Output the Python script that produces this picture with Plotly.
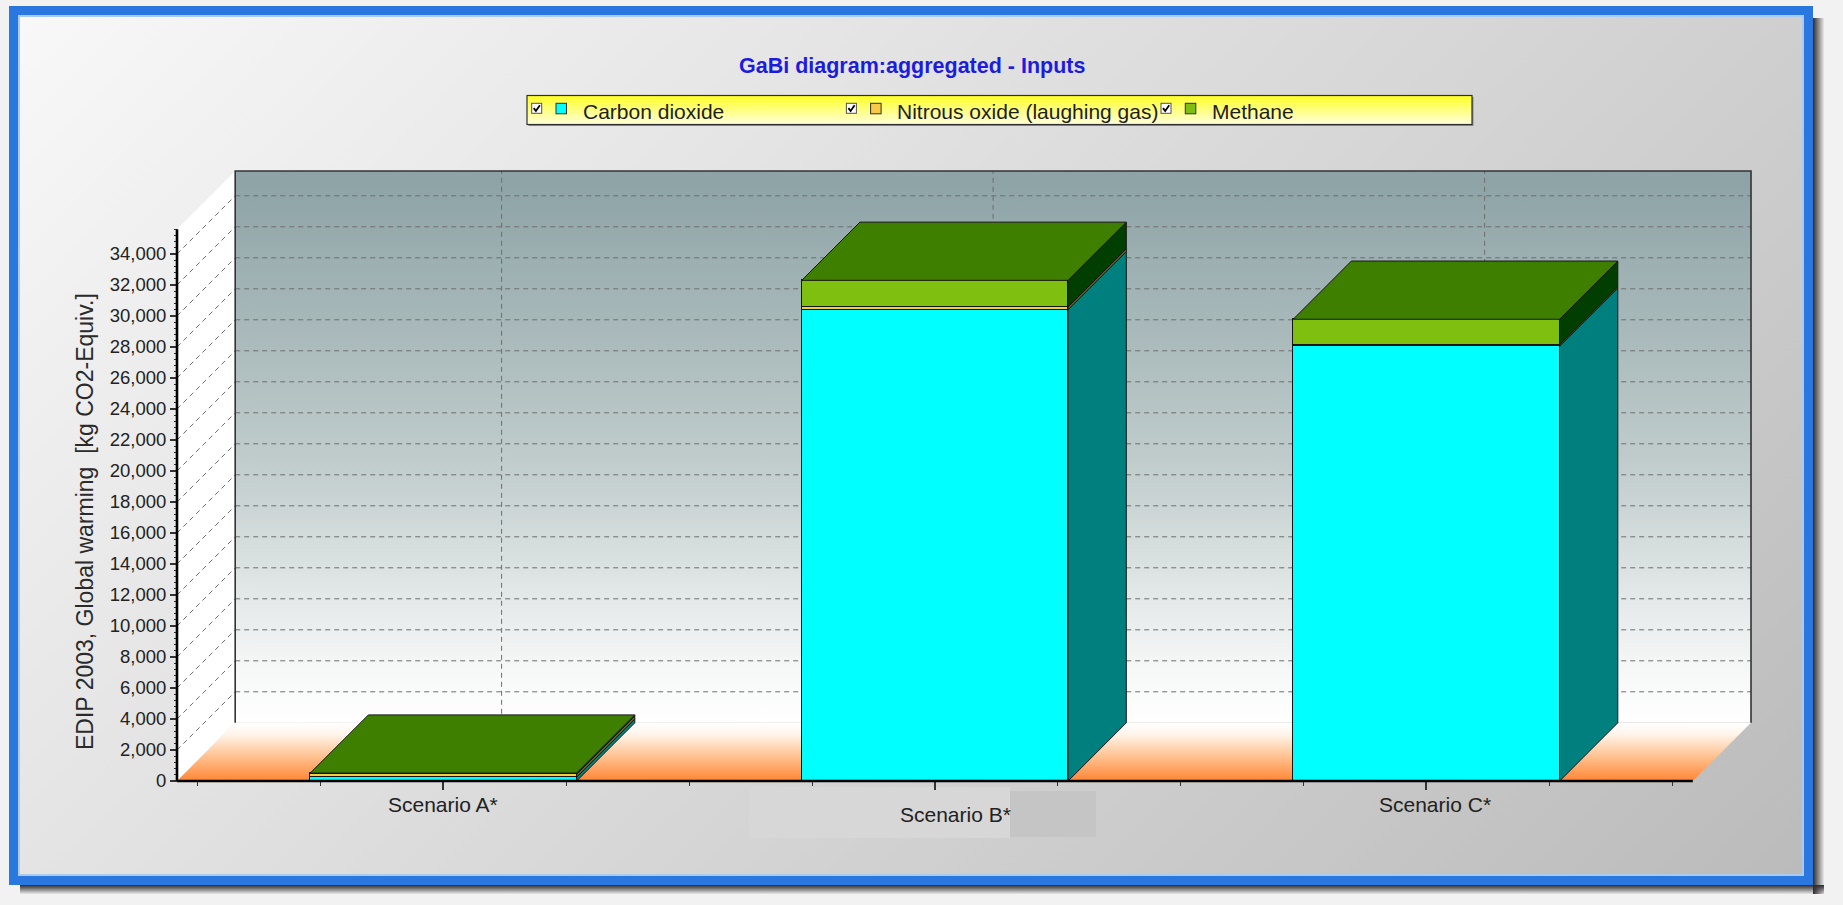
import base64
import plotly.graph_objects as go

# ---------------- data ----------------
categories = ["Scenario A*", "Scenario B*", "Scenario C*"]
series_names = ["Carbon dioxide", "Nitrous oxide (laughing gas)", "Methane"]
carbon_dioxide = [250, 30410, 28050]
nitrous_oxide = [190, 170, 100]
methane = [70, 1720, 1640]
y_tick_values = list(range(0, 34001, 2000))
chart_title = "GaBi diagram:aggregated - Inputs"
y_title = "EDIP 2003, Global warming\u00a0 [kg CO2-Equiv.]"

series_values = [carbon_dioxide, nitrous_oxide, methane]

# ---------------- styles ----------------
front_colors = ["#00ffff", "#f7cb45", "#7fbf0f"]
side_colors = ["#007f7f", "#7f6418", "#003f00"]
top_colors = ["#00bfbf", "#bf9a30", "#3f7f00"]
EDGE = "#161616"
FONT = "Liberation Sans, Arial, Helvetica, sans-serif"
GRID = "#6e6e6e"

# ---------------- geometry (pixels) ----------------
W, H = 1843, 905
BOX_L, BOX_R, BOX_T, BOX_B, PAD = 177, 1751, 171, 781, 8
ml, mr, mt, mb = BOX_L - PAD, W - BOX_R - PAD, BOX_T - PAD, H - BOX_B - PAD
pw, ph = W - ml - mr, H - mt - mb

CAT_PX = 491.5      # pixels per category step
CAT0_PX = 443.4     # pixel of first category centre
VAL_PX = 0.0155     # pixels per value unit
BAR_W = 0.542
XMIN = (BOX_L - CAT0_PX) / CAT_PX
XMAX = (len(categories) - 1) - XMIN
DX = (BOX_R - CAT0_PX) / CAT_PX - XMAX
YTOP = 35600
DY = (BOX_B - BOX_T) / VAL_PX - YTOP

x_range = [(ml - CAT0_PX) / CAT_PX, (W - mr - CAT0_PX) / CAT_PX]
y_range = [-(H - mb - BOX_B) / VAL_PX, (BOX_B - mt) / VAL_PX]


def paper_x(px):
    return (px - ml) / pw


def paper_y(py):
    return (H - mb - py) / ph


def svg_uri(svg):
    return "data:image/svg+xml;base64," + base64.b64encode(svg.encode("utf-8")).decode("ascii")


x_pos = list(range(len(categories)))

# ---------------- background (frame, panel, legend box) ----------------
LEG_BOX = (527, 95.5, 945, 29)
LEG_X0, LEG_STEP, LEG_CB_Y = 531.7, 314.65, 103.3
leg_parts = []
for k in range(len(series_names)):
    cx = LEG_X0 + k * LEG_STEP
    leg_parts.append(f'<rect x="{cx:.1f}" y="{LEG_CB_Y}" width="10" height="10" fill="#ffffff" stroke="#505050" stroke-width="1"/>')
    leg_parts.append(f'<path d="M{cx+2:.1f},{LEG_CB_Y+4.8:.1f} L{cx+4.2:.1f},{LEG_CB_Y+7.6:.1f} L{cx+8.2:.1f},{LEG_CB_Y+2:.1f}" fill="none" stroke="#000000" stroke-width="1.8"/>')
    leg_parts.append(f'<rect x="{cx+24.3:.1f}" y="{LEG_CB_Y}" width="10.5" height="10.5" fill="{front_colors[k]}" stroke="#303030" stroke-width="1"/>')

bg_svg = f'''<svg xmlns="http://www.w3.org/2000/svg" width="{W}" height="{H}" viewBox="0 0 {W} {H}">
<defs>
<linearGradient id="pg" x1="0" y1="0" x2="1.2018" y2="0.5862">
<stop offset="0" stop-color="#f8f8f8"/><stop offset="1" stop-color="#bbbbbb"/>
</linearGradient>
<linearGradient id="shr" x1="0" y1="0" x2="1" y2="0">
<stop offset="0" stop-color="#2c2c2c"/><stop offset="1" stop-color="#2c2c2c" stop-opacity="0.05"/>
</linearGradient>
<linearGradient id="shb" x1="0" y1="0" x2="0" y2="1">
<stop offset="0" stop-color="#2c2c2c"/><stop offset="1" stop-color="#2c2c2c" stop-opacity="0.05"/>
</linearGradient>
<linearGradient id="lg" x1="0" y1="0" x2="0" y2="1">
<stop offset="0" stop-color="#ffff26"/><stop offset="1" stop-color="#ffffdc"/>
</linearGradient>
</defs>
<rect x="0" y="0" width="{W}" height="{H}" fill="#f2f2f2"/>
<rect x="1813" y="18" width="11" height="876" fill="url(#shr)"/>
<rect x="20" y="885" width="1804" height="9" fill="url(#shb)"/>
<rect x="9" y="6" width="1804" height="879" fill="#2a78df"/>
<rect x="18" y="15" width="1786" height="861" fill="#a9cbef"/>
<rect x="20" y="17" width="1782" height="857" fill="url(#pg)"/>
<rect x="749" y="787" width="261" height="51" fill="#d7d7d7"/>
<rect x="1010" y="791" width="86" height="46" fill="#c5c5c5"/>
<rect x="{LEG_BOX[0]+1.5}" y="{LEG_BOX[1]+1.5}" width="{LEG_BOX[2]}" height="{LEG_BOX[3]}" fill="#8a8a8a"/>
<rect x="{LEG_BOX[0]}" y="{LEG_BOX[1]}" width="{LEG_BOX[2]}" height="{LEG_BOX[3]}" fill="url(#lg)" stroke="#303030" stroke-width="1.2"/>
{''.join(leg_parts)}
</svg>'''

# back wall gradient
back_svg = '''<svg xmlns="http://www.w3.org/2000/svg" width="100" height="100" viewBox="0 0 100 100" preserveAspectRatio="none">
<defs><linearGradient id="bw" x1="0" y1="0" x2="0" y2="1">
<stop offset="0" stop-color="#8ca2a5"/><stop offset="0.55" stop-color="#c3cece"/>
<stop offset="0.9" stop-color="#f6f7f7"/><stop offset="1" stop-color="#ffffff"/>
</linearGradient></defs>
<rect x="0" y="0" width="100" height="100" fill="url(#bw)"/>
</svg>'''

# floor gradient (parallelogram inside its bounding box)
fw = XMAX - XMIN + DX
fx_front = (XMAX - XMIN) / fw * 1000
fx_back = DX / fw * 1000
floor_svg = f'''<svg xmlns="http://www.w3.org/2000/svg" width="1000" height="100" viewBox="0 0 1000 100" preserveAspectRatio="none">
<defs><linearGradient id="fl" x1="0" y1="0" x2="0" y2="1">
<stop offset="0" stop-color="#ffffff"/><stop offset="0.2" stop-color="#fff4ea"/>
<stop offset="0.6" stop-color="#ffbf8c"/><stop offset="1" stop-color="#ff8636"/>
</linearGradient></defs>
<polygon points="0,100 {fx_front:.3f},100 1000,0 {fx_back:.3f},0" fill="url(#fl)"/>
</svg>'''

images = [
    dict(source=svg_uri(bg_svg), xref="paper", yref="paper", x=paper_x(0), y=paper_y(0),
         sizex=W / pw, sizey=H / ph, xanchor="left", yanchor="top", sizing="stretch", layer="below"),
    dict(source=svg_uri(back_svg), xref="x", yref="y", x=XMIN + DX, y=YTOP + DY,
         sizex=XMAX - XMIN, sizey=YTOP, xanchor="left", yanchor="top", sizing="stretch", layer="below"),
    dict(source=svg_uri(floor_svg), xref="x", yref="y", x=XMIN, y=DY,
         sizex=fw, sizey=DY, xanchor="left", yanchor="top", sizing="stretch", layer="below"),
]

shapes = []
# left wall
shapes.append(dict(type="path", xref="x", yref="y", layer="below",
                   path=f"M{XMIN},0 L{XMIN+DX},{DY} L{XMIN+DX},{YTOP+DY} L{XMIN},{YTOP} Z",
                   fillcolor="#ffffff", line=dict(width=0)))
# gridlines on back wall and left wall
for v in y_tick_values[1:]:
    shapes.append(dict(type="line", xref="x", yref="y", layer="between",
                       x0=XMIN + DX, x1=XMAX + DX, y0=v + DY, y1=v + DY,
                       line=dict(color=GRID, width=1, dash="5px,4px")))
    shapes.append(dict(type="line", xref="x", yref="y", layer="between",
                       x0=XMIN, x1=XMIN + DX, y0=v, y1=v + DY,
                       line=dict(color=GRID, width=1, dash="5px,4px")))
for c in x_pos:
    shapes.append(dict(type="line", xref="x", yref="y", layer="between",
                       x0=c + DX, x1=c + DX, y0=DY, y1=YTOP + DY,
                       line=dict(color=GRID, width=1, dash="5px,4px")))
# back wall border
shapes.append(dict(type="path", xref="x", yref="y", layer="between",
                   path=f"M{XMIN+DX},{DY} L{XMIN+DX},{YTOP+DY} L{XMAX+DX},{YTOP+DY} L{XMAX+DX},{DY}",
                   fillcolor="rgba(0,0,0,0)", line=dict(color="#333333", width=1.6)))

# 3D side and top faces of the stacked bars
for i in x_pos:
    xl, xr = i - BAR_W / 2, i + BAR_W / 2
    base = 0
    top_series = 0
    for s, vals in enumerate(series_values):
        b, t = base, base + vals[i]
        shapes.append(dict(type="path", xref="x", yref="y", layer="above",
                           path=f"M{xr},{b} L{xr+DX},{b+DY} L{xr+DX},{t+DY} L{xr},{t} Z",
                           fillcolor=side_colors[s], line=dict(color=EDGE, width=1)))
        if vals[i] > 0:
            top_series = s
        base = t
    shapes.append(dict(type="path", xref="x", yref="y", layer="above",
                       path=f"M{xl},{base} L{xl+DX},{base+DY} L{xr+DX},{base+DY} L{xr},{base} Z",
                       fillcolor=top_colors[top_series], line=dict(color=EDGE, width=1)))

# axis lines
shapes.append(dict(type="line", xref="x", yref="y", layer="above", x0=XMIN, x1=XMAX, y0=0, y1=0,
                   line=dict(color="#000000", width=2.6)))
shapes.append(dict(type="line", xref="x", yref="y", layer="above", x0=XMIN, x1=XMIN, y0=0, y1=YTOP,
                   line=dict(color="#000000", width=2.6)))

# ---------------- traces ----------------
fig = go.Figure()
for s, name in enumerate(series_names):
    fig.add_trace(go.Bar(
        x=x_pos, y=series_values[s], width=BAR_W, name=name,
        customdata=categories,
        hovertemplate="%{customdata}<br>" + name + ": %{y:,.0f}<extra></extra>",
        marker=dict(color=front_colors[s], line=dict(color=EDGE, width=1)),
        showlegend=False,
    ))

# ---------------- annotations ----------------
annotations = [
    dict(text=f"<b>{chart_title}</b>", xref="paper", yref="paper", x=paper_x(912), y=paper_y(66),
         xanchor="center", yanchor="middle", showarrow=False,
         font=dict(family=FONT, size=21.5, color="#1c1ce0")),
    dict(text=y_title, xref="paper", yref="paper", x=paper_x(85), y=paper_y(522), textangle=-90,
         xanchor="center", yanchor="middle", showarrow=False,
         font=dict(family=FONT, size=23, color="#2a2a2a")),
]
for k, name in enumerate(series_names):
    annotations.append(dict(text=name, xref="paper", yref="paper",
                            x=paper_x(LEG_X0 + k * LEG_STEP + 49), y=paper_y(111),
                            xanchor="left", yanchor="middle", showarrow=False,
                            font=dict(family=FONT, size=21, color="#1e1e1e")))
label_shift_px = [0, 21, 9]
label_y_px = [805, 814, 805]
for i, cat in enumerate(categories):
    annotations.append(dict(text=cat, xref="x", yref="paper", x=x_pos[i], xshift=label_shift_px[i],
                            y=paper_y(label_y_px[i]), xanchor="center", yanchor="middle",
                            showarrow=False, font=dict(family=FONT, size=21, color="#222222")))

x_minor = [k / 4 for k in range(-2, 4 * (len(categories) - 1) + 3) if k % 4 != 0]
y_minor = [v for v in range(400, YTOP + 1, 400) if v % 2000 != 0]

fig.update_layout(
    width=W, height=H,
    margin=dict(l=ml, r=mr, t=mt, b=mb, pad=0, autoexpand=False),
    paper_bgcolor="#f2f2f2", plot_bgcolor="rgba(0,0,0,0)",
    barmode="stack", bargap=0,
    showlegend=False,
    images=images, shapes=shapes, annotations=annotations,
    font=dict(family=FONT, color="#222222"),
    xaxis=dict(range=x_range, anchor="free", position=paper_y(BOX_B), automargin=False,
               showgrid=False, zeroline=False, showline=False,
               tickmode="array", tickvals=x_pos, ticktext=categories, showticklabels=False,
               ticks="outside", ticklen=8, tickwidth=1.5, tickcolor="#333333",
               minor=dict(tickmode="array", tickvals=x_minor, ticks="outside", ticklen=4,
                          tickwidth=1.2, tickcolor="#333333", showgrid=False),
               fixedrange=True),
    yaxis=dict(range=y_range, anchor="free", position=paper_x(BOX_L), automargin=False,
               showgrid=False, zeroline=False, showline=False,
               tickmode="array", tickvals=y_tick_values, tickformat=",d",
               ticks="outside", ticklen=7, tickwidth=1.5, tickcolor="#333333",
               tickfont=dict(family=FONT, size=18.5, color="#222222"),
               minor=dict(tickmode="array", tickvals=y_minor, ticks="outside", ticklen=3,
                          tickwidth=1, tickcolor="#333333", showgrid=False),
               fixedrange=True),
)

fig.write_html(
    "out.html",
    config={"displayModeBar": False},
    post_script="document.body.style.margin='0px';document.body.style.padding='0px';"
                "document.body.style.overflow='hidden';",
)
